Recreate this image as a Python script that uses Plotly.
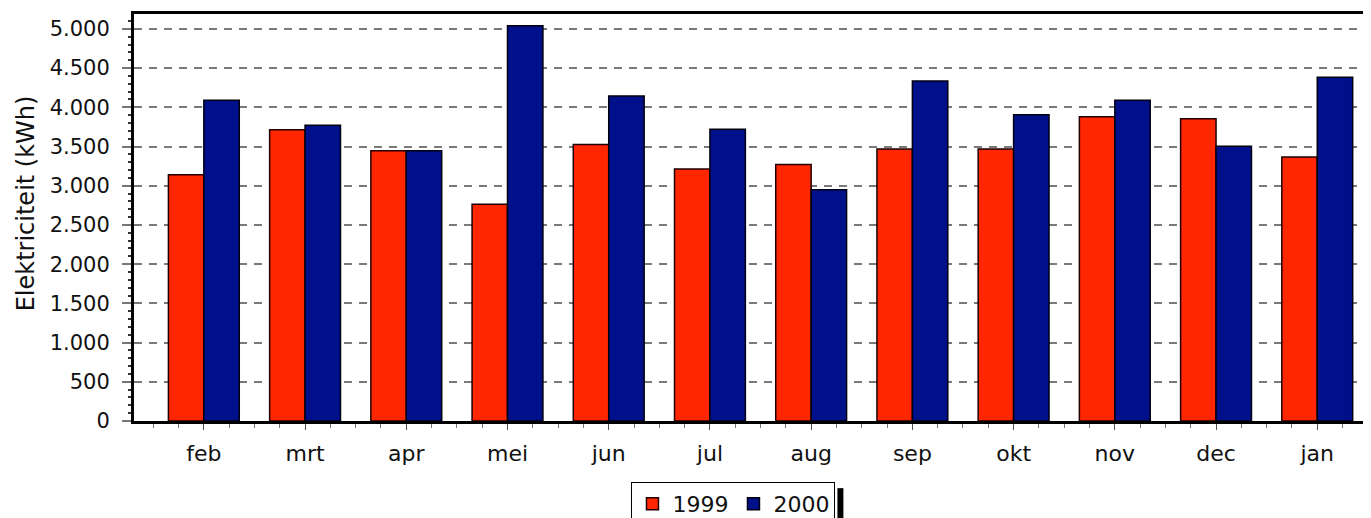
import plotly.graph_objects as go

months = ["feb", "mrt", "apr", "mei", "jun", "jul", "aug", "sep", "okt", "nov", "dec", "jan"]
values_1999 = [3140, 3715, 3445, 2765, 3525, 3215, 3270, 3470, 3470, 3880, 3855, 3365]
values_2000 = [4090, 3770, 3445, 5040, 4145, 3720, 2950, 4335, 3905, 4090, 3505, 4385]
y_ticks = [0, 500, 1000, 1500, 2000, 2500, 3000, 3500, 4000, 4500, 5000]

x_pos = list(range(len(months)))
FONT = "DejaVu Sans"

fig = go.Figure()
fig.add_trace(go.Bar(x=x_pos, y=values_1999, name="1999",
                     marker=dict(color="#ff2600", line=dict(color="#200000", width=1.5))))
fig.add_trace(go.Bar(x=x_pos, y=values_2000, name="2000",
                     marker=dict(color="#00108a", line=dict(color="#000010", width=1.5))))

fig.update_layout(
    width=1371, height=518,
    margin=dict(l=126, r=0, t=6, b=105, autoexpand=False),
    paper_bgcolor="white", plot_bgcolor="white",
    separators=",.",
    barmode="group", bargap=0.30, bargroupgap=0,
    font=dict(family=FONT, size=21, color="#111111"),
    showlegend=True,
    legend=dict(orientation="h", x=0.4815, xanchor="center", y=-0.150, yanchor="top",
                bordercolor="black", borderwidth=1, bgcolor="white",
                font=dict(family=FONT, size=22, color="#111111"),
                itemwidth=30, tracegroupgap=0),
    annotations=[dict(text="Elektriciteit (kWh)", textangle=-90, xref="paper", yref="paper",
                      x=-0.087, y=0.534, xanchor="center", yanchor="middle", showarrow=False,
                      font=dict(family=FONT, size=24, color="#111111"))],
    shapes=[dict(type="rect", xref="paper", yref="paper",
                 x0=0.5650, x1=0.5698, y0=-0.25, y1=-0.165,
                 fillcolor="black", line=dict(width=0), layer="above")],
)

fig.update_xaxes(
    range=[-0.69, 11.61],
    tickmode="array", tickvals=x_pos, ticktext=months,
    showline=True, linecolor="black", linewidth=2.5, mirror=True,
    ticks="outside", ticklen=6, tickcolor="#555555", tickwidth=1,
    minor=dict(dtick=0.25, tick0=0, ticks="outside", ticklen=4, tickcolor="#777777", showgrid=False),
    showgrid=False, zeroline=False, automargin=False,
    tickfont=dict(family=FONT, size=22),
    ticklabelstandoff=5,
)

fig.update_yaxes(
    range=[0, 5190],
    tickmode="array", tickvals=y_ticks, tickformat=",d",
    showline=True, linecolor="black", linewidth=3, mirror=False,
    ticks="outside", ticklen=9, tickcolor="#777777", tickwidth=1.5,
    minor=dict(dtick=100, ticks="outside", ticklen=3, tickcolor="#333333", showgrid=False),
    showgrid=True, gridcolor="#7a7a7a", gridwidth=1.5, griddash="8px,7px",
    zeroline=False, automargin=False,
    tickfont=dict(family=FONT, size=21),
    ticklabelstandoff=8,
)

fig.write_html("out.html")
